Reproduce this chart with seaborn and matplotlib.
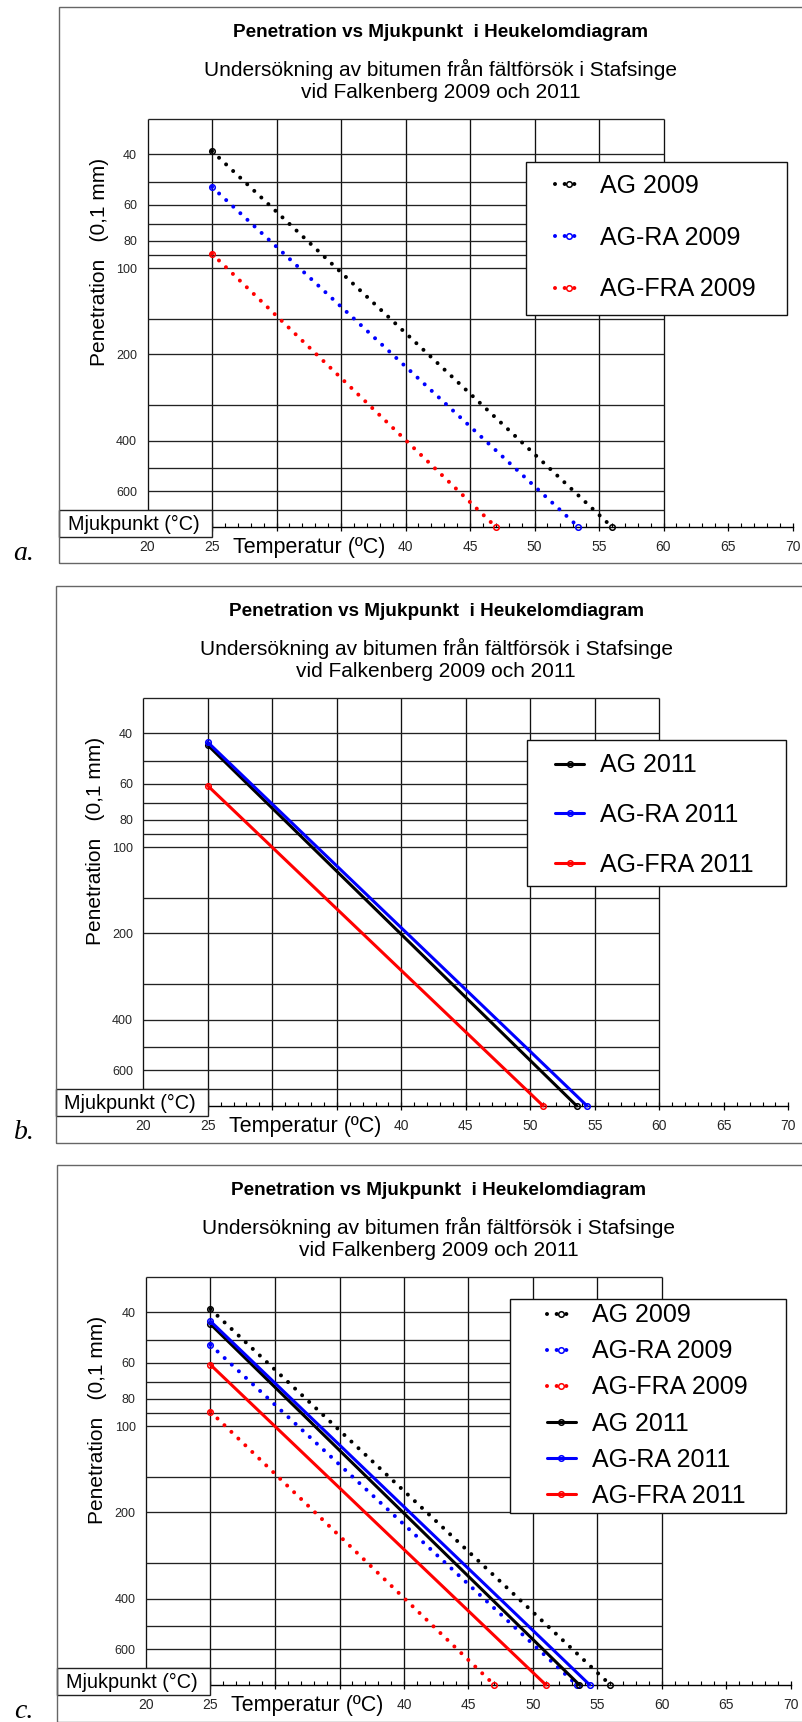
import numpy as np
import pandas as pd
import matplotlib
matplotlib.use("Agg")
import matplotlib.pyplot as plt
import seaborn as sns
from matplotlib.patches import Rectangle
from matplotlib.ticker import FixedLocator, NullLocator, MultipleLocator

sns.set_theme(style="white")
plt.rcParams["font.family"] = ["Liberation Sans", "DejaVu Sans"]

# ---------------- data ----------------
series_2009 = ["AG 2009", "AG-RA 2009", "AG-FRA 2009"]
pen25_2009 = [39, 52, 89]            # penetration at 25 °C (0,1 mm)
sp_2009 = [56.0, 53.4, 47.0]         # mjukpunkt (°C)
series_2011 = ["AG 2011", "AG-RA 2011", "AG-FRA 2011"]
pen25_2011 = [44, 43, 61]
sp_2011 = [53.6, 54.4, 51.0]
series_colors = ["#000000", "#0000FF", "#FF0000"]
pen_test_temp = 25
pen_at_sp = 800

x_ticks = [20, 25, 30, 35, 40, 45, 50, 55, 60, 65, 70]
x_ticklabels = ["20", "25", "", "", "40", "45", "50", "55", "60", "65", "70"]
y_ticks = [40, 60, 80, 100, 200, 400, 600]
y_ticklabels = ["40", "60", "80", "100", "200", "400", "600"]
grid_temps = [20, 25, 30, 35, 40, 45, 50, 55, 60]
grid_pens = [30, 40, 50, 60, 70, 80, 90, 100, 150, 200, 300, 400, 500, 600, 700]

title = "Penetration vs Mjukpunkt  i Heukelomdiagram"
subtitle_1 = "Undersökning av bitumen från fältförsök i Stafsinge"
subtitle_2 = "vid Falkenberg 2009 och 2011"
ylabel = "Penetration   (0,1 mm)"
xlabel = "Temperatur (ºC)"
box_label = "Mjukpunkt (°C)"

rows = []
for yr, names, pens, sps in [(2009, series_2009, pen25_2009, sp_2009),
                             (2011, series_2011, pen25_2011, sp_2011)]:
    for name, p, sp, col in zip(names, pens, sps, series_colors):
        rows.append(dict(serie=name, year=yr, color=col, temp=pen_test_temp, pen=p))
        rows.append(dict(serie=name, year=yr, color=col, temp=sp, pen=pen_at_sp))
df = pd.DataFrame(rows)

# ---------------- layout (pixels) ----------------
W, H = 803, 1722
SX = 12.9      # px per °C
SY = 286.4     # px per decade of penetration

def fx(px):
    return px / W

def fy(py):
    return 1 - py / H

panels = [
    dict(tag="a.", years=[2009], x20=147.5, y40=154.3, fl=59.3,
         lbox=(525.7, 161.7, 786.7, 315.0), lrows=(186.7, 289.0), lx=555.0),
    dict(tag="b.", years=[2011], x20=143.3, y40=733.3, fl=55.7,
         lbox=(527.0, 740.0, 786.5, 886.0), lrows=(766.0, 864.0), lx=555.5),
    dict(tag="c.", years=[2009, 2011], x20=146.0, y40=1312.3, fl=57.0,
         lbox=(510.0, 1299.3, 785.7, 1512.7), lrows=(1316.7, 1494.3), lx=546.7),
]

fig = plt.figure(figsize=(W / 100, H / 100), dpi=100)

for P in panels:
    x20, y40, fl = P["x20"], P["y40"], P["fl"]
    x70 = x20 + 50 * SX
    ytop = y40 - np.log10(40 / 30) * SY
    ybot = y40 + np.log10(800 / 40) * SY
    y700 = y40 + np.log10(700 / 40) * SY

    # outer frame
    fig.patches.append(Rectangle((fx(fl), fy(y40 + 409.2)), fx(W + 10 - fl),
                                 (409.2 + 147.3) / H, transform=fig.transFigure,
                                 fill=False, edgecolor="#666666", lw=1.0, zorder=0))

    ax = fig.add_axes([fx(x20), fy(ybot), (x70 - x20) / W, (ybot - ytop) / H])
    ax.patch.set_alpha(0)
    ax.set_xlim(20, 70)
    ax.set_yscale("log")
    ax.set_ylim(800, 30)

    # grid (only up to 60 °C)
    ax.vlines(grid_temps, 30, 800, colors="#111111", lw=0.95, zorder=1, clip_on=False)
    ax.hlines(grid_pens, 20, 60, colors="#222222", lw=0.95, zorder=1, clip_on=False)

    # data
    for yr in P["years"]:
        for name in df[df.year == yr].serie.unique():
            sub = df[df.serie == name]
            col = sub.color.iloc[0]
            if yr == 2009:
                sns.lineplot(data=sub, x="temp", y="pen", ax=ax, color=col, lw=2.9,
                             linestyle=(0, (0.001, 2.4)), dash_capstyle="round",
                             marker="o", markersize=4, mfc="none", mec=col, mew=1.1,
                             label=name, sort=False, estimator=None, legend=False,
                             zorder=3, clip_on=False)
            else:
                sns.lineplot(data=sub, x="temp", y="pen", ax=ax, color=col, lw=2.2,
                             marker="o", markersize=4, mfc="none", mec=col, mew=1.1,
                             label=name, sort=False, estimator=None, legend=False,
                             zorder=3, clip_on=False)

    # axes / ticks
    for s in ["left", "top", "right"]:
        ax.spines[s].set_visible(False)
    ax.spines["bottom"].set_bounds(25, 70)
    ax.spines["bottom"].set_color("black")
    ax.spines["bottom"].set_linewidth(1.0)
    ax.set_xticks(x_ticks)
    ax.set_xticklabels(x_ticklabels)
    ax.xaxis.set_minor_locator(MultipleLocator(1))
    ax.tick_params(axis="x", which="major", direction="inout", length=5.5, width=0.9,
                   color="black", labelsize=10, pad=6.5, bottom=True)
    ax.tick_params(axis="x", which="minor", direction="in", length=3, width=0.8,
                   color="black", bottom=True)
    ax.yaxis.set_major_locator(FixedLocator(y_ticks))
    ax.yaxis.set_minor_locator(NullLocator())
    ax.set_yticklabels(y_ticklabels)
    ax.tick_params(axis="y", which="major", length=0, labelsize=9, pad=7.5, left=True)
    ax.set_xlabel("")
    ax.set_ylabel("")
    ax.grid(False)

    # Mjukpunkt box
    x25 = x20 + 5 * SX
    ax.add_patch(Rectangle((fx(fl), fy(y700 + 26.4)), fx(x25 - fl), 26.4 / H,
                           transform=fig.transFigure, facecolor="white",
                           edgecolor="#222222", lw=1.0, zorder=6, clip_on=False))
    fig.text(fx(fl + 8.7), fy(y700 + 14.0), box_label, ha="left", va="center",
             fontsize=14.3, color="black", zorder=7)

    # texts
    fig.text(fx(x20 + 293), fy(y40 - 121.6), title, ha="center", va="center",
             fontsize=13.6, fontweight="bold", color="black")
    fig.text(fx(x20 + 293), fy(y40 - 85.0), subtitle_1, ha="center", va="center",
             fontsize=15, color="black")
    fig.text(fx(x20 + 293), fy(y40 - 61.6), subtitle_2, ha="center", va="center",
             fontsize=15, color="black")
    fig.text(fx(x20 - 48), fy(y40 + 107.7), ylabel, ha="center", va="center",
             rotation=90, fontsize=15, color="black")
    fig.text(fx(x20 + 85.5), fy(y40 + 393.5), xlabel, ha="left", va="center",
             fontsize=15.5, color="black")
    fig.text(fx(24), fy(y40 + 406), P["tag"], ha="center", va="baseline",
             fontsize=20, style="italic", family=["Liberation Serif", "DejaVu Serif"],
             color="black")

    # legend
    bx0, by0, bx1, by1 = P["lbox"]
    ax.add_patch(Rectangle((fx(bx0), fy(by1)), (bx1 - bx0) / W, (by1 - by0) / H,
                           transform=fig.transFigure, facecolor="white",
                           edgecolor="#111111", lw=1.0, zorder=4.5, clip_on=False))
    handles, labels = ax.get_legend_handles_labels()
    n = len(labels)
    r0, r1 = P["lrows"]
    row_gap = (r1 - r0) / (n - 1)
    leg = ax.legend(handles, labels, loc="center left",
                    bbox_to_anchor=(fx(P["lx"]), fy((r0 + r1) / 2)),
                    bbox_transform=fig.transFigure, frameon=False, borderpad=0,
                    borderaxespad=0, fontsize=18, handlelength=1.16, handletextpad=0.64,
                    labelspacing=(row_gap - 23.5) / 25.0, numpoints=1)
    leg.set_zorder(5)
    for t in leg.get_texts():
        t.set_color("black")

fig.savefig("out.png", dpi=100)
